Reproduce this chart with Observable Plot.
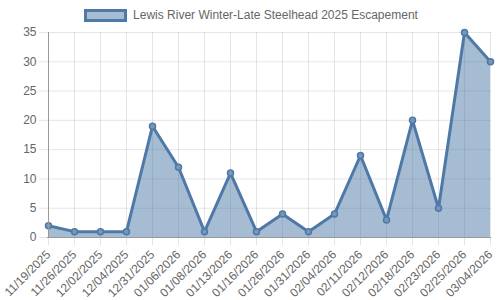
<!DOCTYPE html>
<html><head><meta charset="utf-8">
<script src="https://cdn.jsdelivr.net/npm/d3@7"></script>
<script src="https://cdn.jsdelivr.net/npm/@observablehq/plot@0.6"></script>
<style>
body{margin:0;background:#fff;font-family:"Liberation Sans",Arial,Helvetica,sans-serif}
#wrap{position:relative;width:500px;height:300px;overflow:hidden}
#legend{position:absolute;top:8px;left:0;width:500px;display:flex;justify-content:center;align-items:center;font-size:12px;color:#666;padding-left:1px}
#legend .sw{width:43px;height:13px;box-sizing:border-box;border:3px solid #4e79a7;background:#a6bcd3;margin-right:6px}
#chart svg{display:block}
</style></head>
<body>
<div id="wrap">
  <div id="chart"></div>
  <div id="legend"><span class="sw"></span><span id="ltext"></span></div>
</div>
<script>
const seriesName = "Lewis River Winter-Late Steelhead 2025 Escapement";
const dates = ["11/19/2025","11/26/2025","12/02/2025","12/04/2025","12/31/2025","01/06/2026","01/08/2026","01/13/2026","01/16/2026","01/26/2026","01/31/2026","02/04/2026","02/11/2026","02/12/2026","02/18/2026","02/23/2026","02/25/2026","03/04/2026"];
const counts = [2,1,1,1,19,12,1,11,1,4,1,4,14,3,20,5,35,30];
const yTicks = [0,5,10,15,20,25,30,35];

document.getElementById("ltext").textContent = seriesName;
const data = dates.map((d,i)=>({date:d, count:counts[i]}));
const blue = "#4e79a7";

const chart = Plot.plot({
  width: 500, height: 300,
  marginLeft: 47, marginRight: 9, marginTop: 32, marginBottom: 63,
  style: {fontFamily: '"Liberation Sans", Arial, sans-serif', fontSize: "12px", color: "#666", background: "#fff"},
  x: {type: "point", domain: dates, padding: 0},
  y: {domain: [0,35]},
  marks: [
    Plot.gridY(yTicks, {stroke: "#000", strokeOpacity: 0.1}),
    Plot.gridX(dates, {stroke: "#000", strokeOpacity: 0.1}),
    Plot.areaY(data, {x: "date", y: "count", fill: blue, fillOpacity: 0.5, curve: "linear"}),
    Plot.lineY(data, {x: "date", y: "count", stroke: blue, strokeWidth: 3, curve: "linear"}),
    Plot.dot(data, {x: "date", y: "count", r: 3, fill: "#7896bb", stroke: blue, strokeWidth: 1.5}),
    Plot.axisY({ticks: yTicks, tickSize: 8, tickPadding: 3, stroke: "#000", strokeOpacity: 0.1, fill: "#666", label: null, fontSize: 12}),
    Plot.axisX({ticks: dates, tickSize: 8, tickPadding: 7, tickRotate: -45, stroke: "#000", strokeOpacity: 0.1, fill: "#666", label: null, fontSize: 12}),
    Plot.ruleX([dates[0]], {stroke: "#999", strokeWidth: 1}),
    Plot.ruleY([0], {stroke: "#999", strokeWidth: 1})
  ]
});
document.getElementById("chart").appendChild(chart);
</script>
</body></html>
